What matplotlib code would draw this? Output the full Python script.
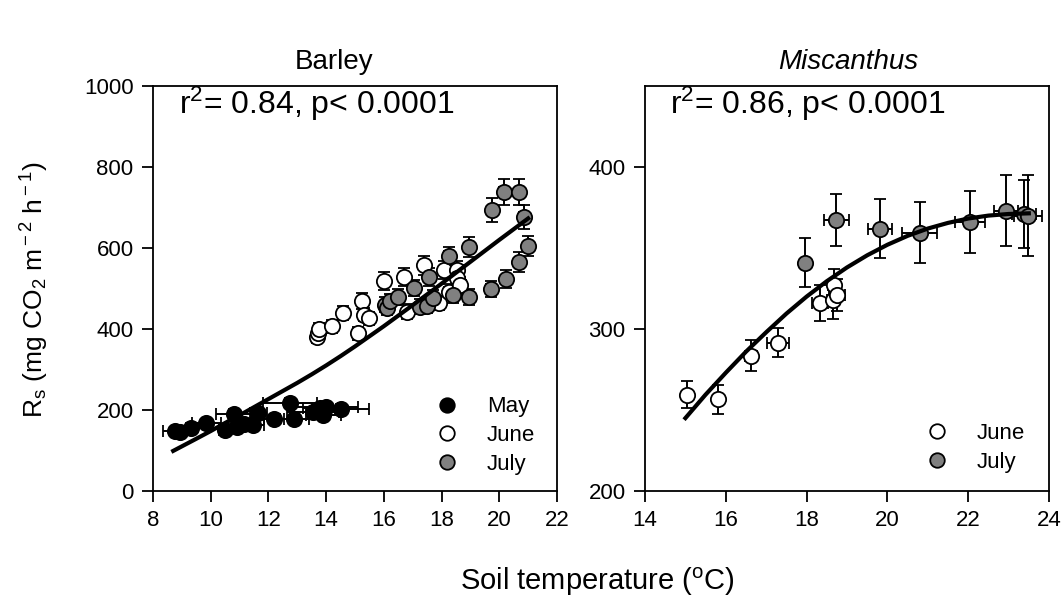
import matplotlib
matplotlib.use("Agg")
import matplotlib.pyplot as plt

plt.rcParams['font.family'] = ['Liberation Sans', 'DejaVu Sans']
plt.rcParams['mathtext.fontset'] = 'custom'
plt.rcParams['mathtext.rm'] = 'Liberation Sans'
plt.rcParams['mathtext.it'] = 'Liberation Sans:italic'

# --- Barley: May / June / July ---
may_x = [8.75, 8.95, 9.3, 9.85, 10.5, 10.8, 10.9, 11.15, 11.45, 11.65, 12.2, 12.75, 12.9, 13.55, 13.8, 14.0, 13.9, 14.5]
may_y = [148, 145, 155, 168, 150, 190, 158, 165, 163, 192, 178, 217, 178, 195, 205, 207, 188, 203]
may_xerr = [0.4, 0.1, 0.15, 0.5, 0.2, 0.6, 0.2, 0.3, 0.4, 0.3, 0.35, 0.95, 0.5, 0.9, 0.6, 1.1, 0.6, 1.0]
may_yerr = [8, 8, 8, 10, 8, 12, 8, 10, 10, 10, 10, 12, 10, 10, 12, 12, 10, 12]

june_x = [13.7, 13.72, 13.75, 14.2, 14.6, 15.1, 15.25, 15.3, 15.5, 16.0, 16.7, 16.8, 17.4, 17.9, 18.1, 18.25, 18.55, 18.55, 18.65]
june_y = [380, 390, 400, 407, 440, 390, 469, 435, 427, 519, 528, 443, 557, 464, 546, 491, 545, 526, 508]
june_xerr = [0.1, 0.1, 0.1, 0.1, 0.1, 0.1, 0.1, 0.1, 0.1, 0.15, 0.15, 0.15, 0.15, 0.15, 0.15, 0.15, 0.2, 0.2, 0.2]
june_yerr = [15, 15, 15, 16, 18, 16, 20, 16, 16, 22, 22, 18, 24, 18, 22, 20, 22, 22, 20]

july_x = [16.05, 16.1, 16.2, 16.5, 17.05, 17.25, 17.5, 17.55, 17.7, 18.25, 18.4, 18.95, 18.95, 19.7, 19.75, 20.15, 20.25, 20.7, 20.7, 20.85, 21.0]
july_y = [460, 452, 469, 479, 501, 455, 457, 528, 477, 580, 484, 602, 479, 499, 694, 738, 523, 738, 565, 677, 605]
july_xerr = [0.1, 0.1, 0.1, 0.1, 0.1, 0.1, 0.1, 0.1, 0.1, 0.15, 0.15, 0.15, 0.15, 0.15, 0.15, 0.15, 0.15, 0.15, 0.15, 0.15, 0.15]
july_yerr = [18, 18, 18, 20, 20, 18, 18, 22, 20, 22, 20, 25, 20, 20, 29, 33, 22, 33, 25, 30, 25]

barley_fit_x = [8.7, 9.5, 10, 10.5, 11, 11.5, 12, 12.5, 13, 13.5, 14, 14.5, 15, 15.5, 16, 16.5, 17, 18, 19, 20, 21]
barley_fit_y = [99, 129, 148, 168, 187, 207, 227, 247, 267, 288, 310, 333, 357, 382, 407, 433, 459, 512, 566, 620, 673]

# --- Miscanthus: June / July ---
mis_june_x = [15.04, 15.8, 16.62, 17.3, 18.33, 18.65, 18.68, 18.75]
mis_june_y = [259.5, 256.5, 283.5, 291.5, 316, 318, 327, 321]
mis_june_xerr = [0.05, 0.05, 0.15, 0.27, 0.2, 0.15, 0.15, 0.2]
mis_june_yerr = [8.5, 9, 9.5, 9, 11, 12, 10, 10]

mis_july_x = [17.96, 18.73, 19.82, 20.8, 22.04, 22.94, 23.38, 23.48]
mis_july_y = [341, 367.5, 362, 359.5, 366, 373, 371, 370]
mis_july_xerr = [0.1, 0.31, 0.29, 0.44, 0.37, 0.3, 0.3, 0.34]
mis_july_yerr = [15, 16, 18, 19, 19, 22, 21, 25]

mis_fit_x = [15, 15.5, 16, 16.5, 17, 17.5, 18, 18.5, 19, 19.5, 20, 20.5, 21, 21.5, 22, 22.5, 23, 23.5]
mis_fit_y = [245, 259.5, 273, 286, 298, 309.5, 320, 329.5, 338, 345.5, 352, 357.5, 362, 365.5, 368.2, 370, 371, 371.4]

W, H = 1064, 599
fig = plt.figure(figsize=(W / 100, H / 100), dpi=100)
ax1 = fig.add_axes([153 / W, (H - 491) / H, 404 / W, 405 / H])
ax2 = fig.add_axes([645 / W, (H - 491) / H, 404 / W, 405 / H])

grey = '#808080'
mk = dict(fmt='o', ms=11, mec='black', mew=1.3, ecolor='black',
          elinewidth=1.4, capsize=4, capthick=1.4)


def style(ax):
    ax.tick_params(direction='out', length=8, width=1.3, labelsize=16, pad=6,
                   top=False, right=False)
    for s in ax.spines.values():
        s.set_linewidth(1.3)


leg_kw = dict(loc='lower right', frameon=False, fontsize=16, markerscale=0.95,
              handletextpad=1.3, labelspacing=0.35, handlelength=1.0)

# Barley panel
ax1.errorbar(may_x, may_y, xerr=may_xerr, yerr=may_yerr, mfc='black', label='May', zorder=3, **mk)
ax1.errorbar(june_x, june_y, xerr=june_xerr, yerr=june_yerr, mfc='white', label='June', zorder=3, **mk)
ax1.errorbar(july_x, july_y, xerr=july_xerr, yerr=july_yerr, mfc=grey, label='July', zorder=3, **mk)
ax1.plot(barley_fit_x, barley_fit_y, color='black', lw=3, zorder=4)
ax1.set_xlim(8, 22)
ax1.set_ylim(0, 1000)
ax1.set_xticks(range(8, 23, 2))
ax1.set_yticks(range(0, 1001, 200))
style(ax1)
ax1.text(0.064, 0.955, r'r$^2$= 0.84, p< 0.0001', transform=ax1.transAxes,
         fontsize=23, ha='left', va='center')
h, l = ax1.get_legend_handles_labels()
h = [x[0] for x in h]
ax1.legend(h, l, bbox_to_anchor=(0.995, -0.01), **leg_kw)

# Miscanthus panel
ax2.errorbar(mis_june_x, mis_june_y, xerr=mis_june_xerr, yerr=mis_june_yerr, mfc='white', label='June', zorder=3, **mk)
ax2.errorbar(mis_july_x, mis_july_y, xerr=mis_july_xerr, yerr=mis_july_yerr, mfc=grey, label='July', zorder=3, **mk)
ax2.plot(mis_fit_x, mis_fit_y, color='black', lw=3, zorder=4)
ax2.set_xlim(14, 24)
ax2.set_ylim(200, 450)
ax2.set_xticks(range(14, 25, 2))
ax2.set_yticks([200, 300, 400])
style(ax2)
ax2.text(0.062, 0.955, r'r$^2$= 0.86, p< 0.0001', transform=ax2.transAxes,
         fontsize=23, ha='left', va='center')
h, l = ax2.get_legend_handles_labels()
h = [x[0] for x in h]
ax2.legend(h, l, bbox_to_anchor=(0.99, -0.005), **leg_kw)

fig.text(334 / W, 1 - 62 / H, 'Barley', fontsize=20, ha='center', va='center')
fig.text(848 / W, 1 - 62 / H, 'Miscanthus', fontsize=20, style='italic', ha='center', va='center')
fig.text(597 / W, 1 - 582 / H, r'Soil temperature ($^{\rm o}$C)', fontsize=21, ha='center', va='center')
fig.text(35 / W, 1 - 290 / H, r'R$_{\rm s}$ (mg CO$_{\rm 2}$ m$^{\rm -2}$ h$^{\rm -1}$)',
         fontsize=19, rotation=90, ha='center', va='center')

fig.savefig('out.png', dpi=100)
